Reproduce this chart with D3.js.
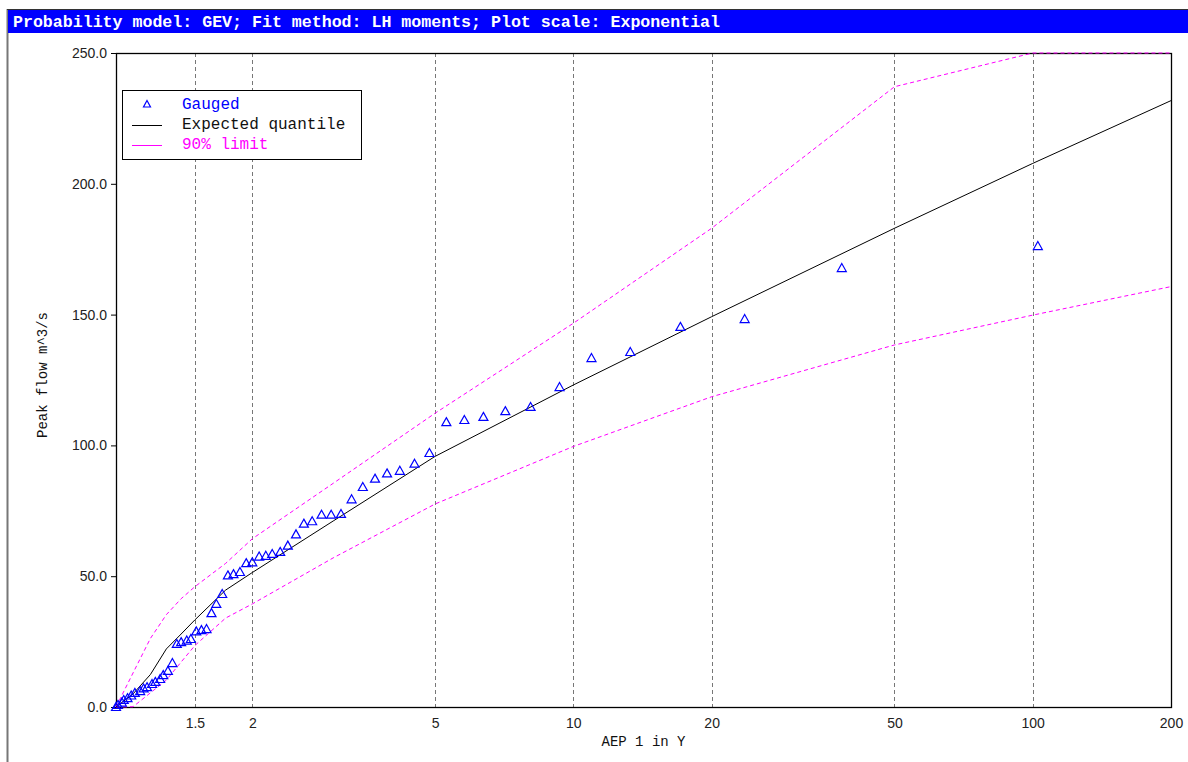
<!DOCTYPE html>
<html>
<head>
<meta charset="utf-8">
<script src="https://cdn.jsdelivr.net/npm/d3@7"></script>
<style>
  body { margin: 0; background: #fff; }
  svg { display: block; font-family: "Liberation Mono", "DejaVu Sans Mono", monospace; }
  .tickLabel { fill: #222; font-size: 14px; }
  .axisTitle { fill: #111; font-size: 14px; }
</style>
</head>
<body>
<script>
// AEP "1 in Y" for each gauged peak, largest first
const gaugedAep = [102.6, 38.4, 23.6, 17.1, 13.3, 10.95, 9.33, 8.07, 7.11, 6.37,
    5.79, 5.29, 4.86, 4.51, 4.19, 3.93, 3.70, 3.48, 3.29, 3.12,
    2.97, 2.83, 2.70, 2.59, 2.49, 2.39, 2.30, 2.21, 2.14, 2.07,
    2.00, 1.94, 1.88, 1.82, 1.77, 1.72, 1.67, 1.63, 1.59, 1.55,
    1.51, 1.47, 1.44, 1.40, 1.37, 1.34, 1.31, 1.28, 1.26, 1.23,
    1.21, 1.18, 1.16, 1.14, 1.11, 1.09, 1.07, 1.05, 1.04, 1.02, 1.01];

// gauged peak flows m^3/s
const gaugedFlow = [176.2, 167.8, 148.3, 145.3, 135.7, 133.4, 122.3, 114.7, 113.1, 110.9,
    109.7, 108.9, 97.1, 93.0, 90.3, 89.3, 87.3, 84.1, 79.4, 73.8,
    73.5, 73.5, 71.0, 70.1, 66.0, 61.7, 59.3, 58.5, 57.8, 57.5,
    55.3, 55.0, 51.6, 50.8, 50.3, 43.2, 39.4, 35.9, 29.8, 29.4,
    28.9, 26.0, 25.4, 24.8, 24.1, 16.8, 13.8, 12.2, 10.7, 9.6,
    8.8, 7.6, 7.1, 6.1, 5.4, 4.4, 3.4, 2.7, 1.7, 0.8, 0.0];

// fitted curve + 90% limits
const curveAep  = [1.01, 1.1, 1.2, 1.3, 1.4, 1.5, 1.75, 2, 3, 5, 10, 20, 50, 100, 200];
const expectedQ = [0, 5.0, 12.4, 22.2, 27.9, 33.3, 44.7, 51.4, 71.1, 95.8, 123.1, 149.2, 183.0, 207.8, 231.8];
const upperQ    = [0, 13.0, 26.2, 35.3, 41.4, 46.0, 54.9, 64.3, 85.5, 112.3, 146.7, 183.0, 237.1, 250, 250];
const lowerQ    = [0, 0.1, 5.4, 10.3, 17.2, 23.5, 34.0, 39.4, 57.0, 77.6, 99.6, 118.6, 138.4, 149.8, 160.7];

const xTicks = [1.5, 2, 5, 10, 20, 50, 100, 200];
const yTicks = [0, 50, 100, 150, 200, 250];

const W = 1188, H = 762;
const plotLeft = 116, plotRight = 1171, plotTop = 53, plotBottom = 707;

const svg = d3.select("body").append("svg")
    .attr("width", W)
    .attr("height", H);

// ----- window frame + title bar -----
svg.append("line")
    .attr("x1", 7.5).attr("x2", 7.5)
    .attr("y1", 9).attr("y2", H)
    .attr("stroke", "#777").attr("stroke-width", 2);
svg.append("line")
    .attr("x1", 7).attr("x2", W)
    .attr("y1", 9.5).attr("y2", 9.5)
    .attr("stroke", "#333");
svg.append("rect")
    .attr("x", 8).attr("y", 10)
    .attr("width", W - 8).attr("height", 23)
    .attr("fill", "#0000ff");
svg.append("text")
    .attr("x", 13).attr("y", 27)
    .attr("fill", "#fff")
    .attr("font-weight", "bold")
    .attr("font-size", "16.6px")
    .text("Probability model: GEV; Fit method: LH moments; Plot scale: Exponential");

// ----- scales (exponential plot => log of Y) -----
const x = d3.scaleLog().domain([1.01, 200]).range([plotLeft, plotRight]);
const y = d3.scaleLinear().domain([0, 250]).range([plotBottom, plotTop]);

// vertical dashed grid
svg.append("g")
    .selectAll("line")
    .data(xTicks.filter(d => d < 200))
    .enter()
    .append("line")
    .attr("x1", d => Math.round(x(d)) + 0.5)
    .attr("x2", d => Math.round(x(d)) + 0.5)
    .attr("y1", plotTop).attr("y2", plotBottom)
    .attr("stroke", "#777")
    .attr("stroke-dasharray", "4,3");

// x axis labels
const xAxis = svg.append("g")
    .attr("transform", "translate(0," + plotBottom + ")")
    .call(d3.axisBottom(x).tickValues(xTicks).tickFormat(d3.format("")).tickSize(0).tickPadding(11));
xAxis.select(".domain").remove();
xAxis.selectAll("text").attr("class", "tickLabel").attr("font-family", null).attr("font-size", null).attr("fill", null);

// y axis
const yAxis = svg.append("g")
    .attr("transform", "translate(" + plotLeft + ",0)")
    .call(d3.axisLeft(y).tickValues(yTicks).tickFormat(d3.format(".1f")).tickSize(5).tickPadding(4));
yAxis.select(".domain").remove();
yAxis.selectAll("line").attr("stroke", "#000");
yAxis.selectAll("text").attr("class", "tickLabel").attr("font-family", null).attr("font-size", null).attr("fill", null);

// plot frame
svg.append("rect")
    .attr("x", plotLeft + 0.5).attr("y", plotTop + 0.5)
    .attr("width", plotRight - plotLeft).attr("height", plotBottom - plotTop)
    .attr("fill", "none")
    .attr("stroke", "#000")
    .attr("stroke-width", 1.3);

// axis titles
svg.append("text")
    .attr("class", "axisTitle")
    .attr("x", (plotLeft + plotRight) / 2).attr("y", 746)
    .attr("text-anchor", "middle")
    .text("AEP 1 in Y");

svg.append("text")
    .attr("class", "axisTitle")
    .attr("transform", "translate(47,375) rotate(-90)")
    .attr("text-anchor", "middle")
    .text("Peak flow m^3/s");

// ----- curves -----
const line = d3.line()
    .x(d => x(d[0]))
    .y(d => y(d[1]));

svg.append("path")
    .datum(d3.zip(curveAep, upperQ))
    .attr("d", line)
    .attr("fill", "none")
    .attr("stroke", "#ff00ff")
    .attr("stroke-dasharray", "4,3");

svg.append("path")
    .datum(d3.zip(curveAep, lowerQ))
    .attr("d", line)
    .attr("fill", "none")
    .attr("stroke", "#ff00ff")
    .attr("stroke-dasharray", "4,3");

svg.append("path")
    .datum(d3.zip(curveAep, expectedQ))
    .attr("d", line)
    .attr("fill", "none")
    .attr("stroke", "#000");

// gauged points as open triangles
const tri = "M0,-4.5L4.5,3.5L-4.5,3.5Z";
svg.append("g")
    .selectAll("path")
    .data(d3.zip(gaugedAep, gaugedFlow))
    .enter()
    .append("path")
    .attr("d", tri)
    .attr("transform", d => "translate(" + x(d[0]) + "," + y(d[1]) + ")")
    .attr("fill", "none")
    .attr("stroke", "#0000ff")
    .attr("stroke-width", 1.2);

// ----- legend -----
const legend = svg.append("g").attr("transform", "translate(122,90)");
legend.append("rect")
    .attr("x", 0.5).attr("y", 0.5)
    .attr("width", 239).attr("height", 69)
    .attr("fill", "#fff")
    .attr("stroke", "#000");

legend.append("path")
    .attr("d", "M0,-3.5L3.5,3L-3.5,3Z")
    .attr("transform", "translate(25,14)")
    .attr("fill", "none")
    .attr("stroke", "#0000ff")
    .attr("stroke-width", 1.2);
legend.append("line")
    .attr("x1", 10).attr("x2", 40)
    .attr("y1", 35.5).attr("y2", 35.5)
    .attr("stroke", "#000");
legend.append("line")
    .attr("x1", 10).attr("x2", 40)
    .attr("y1", 55.5).attr("y2", 55.5)
    .attr("stroke", "#ff00ff");

const legendText = [["Gauged", "#0000ff"], ["Expected quantile", "#111"], ["90% limit", "#ff00ff"]];
legend.selectAll("text.leg")
    .data(legendText)
    .enter()
    .append("text")
    .attr("class", "leg")
    .attr("x", 60)
    .attr("y", (d, i) => 19 + i * 20)
    .attr("font-size", "16px")
    .attr("fill", d => d[1])
    .text(d => d[0]);
</script>
</body>
</html>
